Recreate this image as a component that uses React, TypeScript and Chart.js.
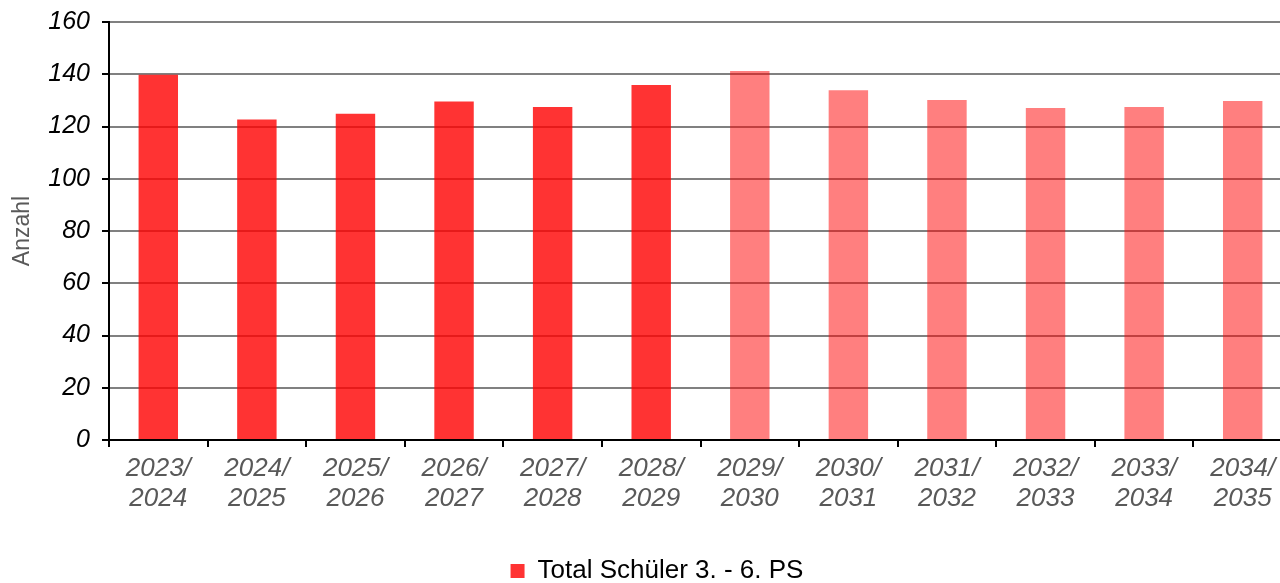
import React, { useEffect, useRef } from "react";
import { Chart, registerables } from "chart.js";

Chart.register(...registerables);

const schoolYears: string[][] = [
  ["2023/", "2024"], ["2024/", "2025"], ["2025/", "2026"], ["2026/", "2027"],
  ["2027/", "2028"], ["2028/", "2029"], ["2029/", "2030"], ["2030/", "2031"],
  ["2031/", "2032"], ["2032/", "2033"], ["2033/", "2034"], ["2034/", "2035"],
];
const totalStudents: number[] = [139.8, 122.7, 124.9, 129.6, 127.5, 135.9, 141.2, 133.9, 130.1, 127.1, 127.5, 129.8];
const isForecast: boolean[] = [false, false, false, false, false, false, true, true, true, true, true, true];
const seriesLabel = "Total Schüler 3. - 6. PS";
const yTicks = { min: 0, max: 160, step: 20 };

const FONT = "'Liberation Sans', Arial, sans-serif";
const CANVAS_W = 1300;
const CANVAS_H = 594;
const PAD_L = 22;
const PAD_R = 8;
const PLOT_LEFT = 109;
const PLOT_TOP = 22;
const PLOT_BOTTOM = 440;

export default function App() {
  const ref = useRef<HTMLCanvasElement | null>(null);
  useEffect(() => {
    document.body.style.margin = "0";
    if (!ref.current) return;
    const colors = isForecast.map((f) => (f ? "rgba(255,0,0,0.5)" : "rgba(255,0,0,0.8)"));
    const chart = new Chart(ref.current, {
      type: "bar",
      data: {
        labels: schoolYears,
        datasets: [
          {
            label: seriesLabel,
            data: totalStudents,
            backgroundColor: colors,
            borderWidth: 0,
            barPercentage: 0.4,
            categoryPercentage: 1,
          },
        ],
      },
      options: {
        animation: false,
        responsive: false,
        layout: { padding: { left: PAD_L, right: PAD_R, top: PLOT_TOP, bottom: 0 } },
        plugins: {
          tooltip: { enabled: false },
          legend: {
            position: "bottom",
            labels: {
              boxWidth: 14,
              boxHeight: 14,
              padding: 0,
              color: "#000",
              font: { family: FONT, size: 26 },
            },
          },
        },
        scales: {
          x: {
            afterFit: (scale: any) => {
              const lh = scale.chart.legend ? scale.chart.legend.height : 0;
              scale.height = CANVAS_H - PLOT_BOTTOM - lh;
              scale.paddingLeft = 0;
              scale.paddingRight = 0;
            },
            border: { display: true, color: "#000", width: 2 },
            grid: {
              offset: true,
              drawOnChartArea: false,
              drawTicks: true,
              tickLength: 7,
              color: "#000",
              lineWidth: 2,
            },
            ticks: {
              autoSkip: false,
              maxRotation: 0,
              minRotation: 0,
              padding: 7,
              color: "#595959",
              font: { family: FONT, size: 26, style: "italic", lineHeight: 1.15 },
            },
          },
          y: {
            min: yTicks.min,
            max: yTicks.max,
            afterFit: (scale: any) => {
              scale.width = PLOT_LEFT - PAD_L;
              scale.paddingTop = 0;
              scale.paddingBottom = 0;
            },
            border: { display: true, color: "#000", width: 2 },
            grid: {
              color: "#808080",
              lineWidth: 2,
              tickLength: 7,
              tickColor: "#000",
              tickWidth: 2,
            },
            ticks: {
              stepSize: yTicks.step,
              padding: 12,
              color: "#000",
              font: { family: FONT, size: 25, style: "italic" },
            },
            title: {
              display: true,
              text: "Anzahl",
              color: "#595959",
              padding: { top: -13, bottom: 0 },
              font: { family: FONT, size: 23 },
            },
          },
        },
      },
    });
    return () => chart.destroy();
  }, []);
  return (
    <div style={{ position: "fixed", left: 0, top: 0, width: 1280, height: 583, overflow: "hidden", background: "#fff" }}>
      <canvas ref={ref} width={CANVAS_W} height={CANVAS_H} style={{ display: "block" }} />
    </div>
  );
}
